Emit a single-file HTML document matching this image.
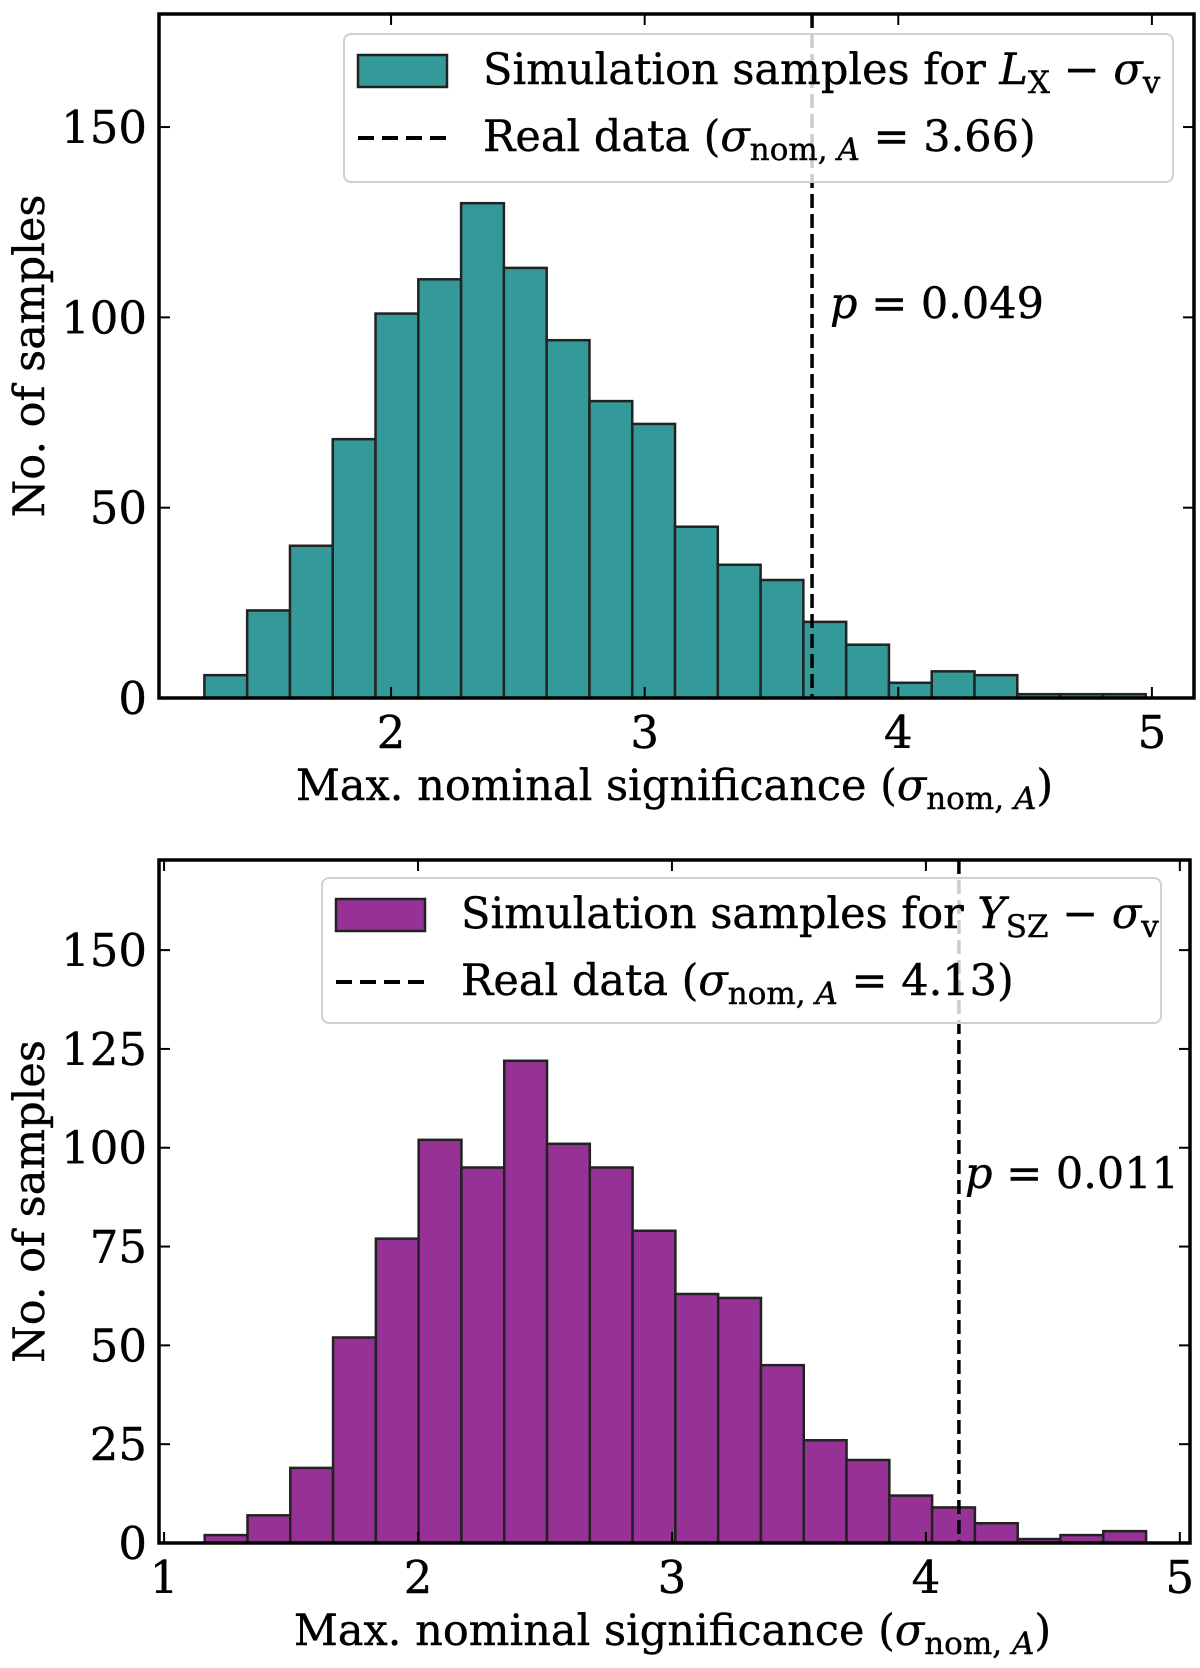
<!DOCTYPE html>
<html><head><meta charset="utf-8"><style>
body{margin:0;background:#fff}
svg text{font-family:"DejaVu Serif","Liberation Serif",serif;fill:#000;stroke:#000;stroke-width:0.4}
</style></head><body>
<svg id="fig" width="1200" height="1663" viewBox="0 0 1200 1663" xmlns="http://www.w3.org/2000/svg"></svg>
<script>
const topCounts=[6,23,40,68,101,110,130,113,94,78,72,45,35,31,20,14,4,7,6,1,1,1];
const topBinStart=1.264, topBinWidth=0.1687;
const topReal=3.66;
const topXTicks=[2,3,4,5];
const topYTicks=[0,50,100,150];
const botCounts=[2,7,19,52,77,102,95,122,101,95,79,63,62,45,26,21,12,9,5,1,2,3];
const botBinStart=1.16, botBinWidth=0.1685;
const botReal=4.13;
const botXTicks=[1,2,3,4,5];
const botYTicks=[0,25,50,75,100,125,150];

const NS="http://www.w3.org/2000/svg";
const svg=document.getElementById('fig');
function mk(tag,attrs,parent){const e=document.createElementNS(NS,tag);for(const k in attrs)e.setAttribute(k,attrs[k]);(parent||svg).appendChild(e);return e;}
const SUB='<tspan font-size="31" dy="9">';
function panel(cfg){
  const g=mk('g',{});
  
  
  const X=v=>cfg.L+(v-cfg.xmin)/(cfg.xmax-cfg.xmin)*(cfg.R-cfg.L);
  const Y=v=>cfg.B-(v)/(cfg.ymax)*(cfg.B-cfg.T);
  cfg.counts.forEach((c,i)=>{
    const x0=X(cfg.binStart+i*cfg.binWidth),x1=X(cfg.binStart+(i+1)*cfg.binWidth);
    const r=mk('rect',{x:x0,y:Y(c),width:x1-x0,height:Y(0)-Y(c),fill:cfg.color,stroke:'#222',"stroke-width":2.5},g);
    
    
  });
  const vl=mk('line',{x1:X(cfg.real),x2:X(cfg.real),y1:cfg.T,y2:cfg.B,stroke:'#000',"stroke-width":3.5,"stroke-dasharray":"14,6"},g);
  
  
  const lg=mk('g',{},g);
  
  
  mk('rect',{x:cfg.lx,y:cfg.ly,width:cfg.lw,height:cfg.lh,rx:7,fill:'rgba(255,255,255,0.8)',stroke:'#d0d0d0',"stroke-width":2},lg);
  mk('rect',{x:cfg.lx+14,y:cfg.ly+21,width:89,height:32,fill:cfg.color,stroke:'#222',"stroke-width":2.5},lg);
  mk('line',{x1:cfg.lx+14,x2:cfg.lx+103,y1:cfg.ly+104,y2:cfg.ly+104,stroke:'#000',"stroke-width":4,"stroke-dasharray":"16,8"},lg);
  const t1=mk('text',{x:cfg.lx+139,y:cfg.ly+50,"font-size":43},lg);
  t1.innerHTML=cfg.label1;
  const t2=mk('text',{x:cfg.lx+139,y:cfg.ly+117,"font-size":43},lg);
  t2.innerHTML='Real data (<tspan font-style="italic">σ</tspan>'+SUB+'nom, <tspan font-style="italic">A</tspan></tspan><tspan dy="-9"> = '+cfg.real.toFixed(2)+')</tspan>';
  const pt=mk('text',{x:cfg.px,y:cfg.py,"font-size":43},g);
  pt.innerHTML='<tspan font-style="italic">p</tspan> = '+cfg.p;
  
  
  mk('rect',{x:cfg.L,y:cfg.T,width:cfg.R-cfg.L,height:cfg.B-cfg.T,fill:'none',stroke:'#000',"stroke-width":3.5},g);
  cfg.xticks.forEach(v=>{
    const x=X(v);
    mk('line',{x1:x,x2:x,y1:cfg.B,y2:cfg.B-11,stroke:'#000',"stroke-width":2},g);
    mk('line',{x1:x,x2:x,y1:cfg.T,y2:cfg.T+11,stroke:'#000',"stroke-width":2},g);
    const t=mk('text',{x:x,y:cfg.B+50,"font-size":45,"text-anchor":"middle"},g);t.textContent=v;
    
    
  });
  cfg.yticks.forEach(v=>{
    const y=Y(v);
    mk('line',{x1:cfg.L,x2:cfg.L+11,y1:y,y2:y,stroke:'#000',"stroke-width":2},g);
    mk('line',{x1:cfg.R,x2:cfg.R-11,y1:y,y2:y,stroke:'#000',"stroke-width":2},g);
    const t=mk('text',{x:cfg.L-12,y:y+16,"font-size":45,"text-anchor":"end"},g);t.textContent=v;
    
    
  });
  const xt=mk('text',{x:(cfg.L+cfg.R)/2-2,y:cfg.B+102,"font-size":43,"text-anchor":"middle"},g);
  xt.innerHTML='Max. nominal significance (<tspan font-style="italic">σ</tspan>'+SUB+'nom, <tspan font-style="italic">A</tspan></tspan><tspan dy="-9">)</tspan>';
  
  
  const yt=mk('text',{x:0,y:0,"font-size":43,"text-anchor":"middle",transform:'translate(44,'+((cfg.T+cfg.B)/2)+') rotate(-90)'},g);
  yt.textContent='No. of samples';
  
  
}
panel({name:'top-panel',L:159,R:1194,T:14,B:698,xmin:1.085,xmax:5.166,ymax:179.7,counts:topCounts,binStart:topBinStart,binWidth:topBinWidth,real:topReal,color:'#339a99',xticks:topXTicks,yticks:topYTicks,lx:344,ly:34,lw:829,lh:148,label1:'Simulation samples for <tspan font-style="italic">L</tspan>'+SUB+'X</tspan><tspan dy="-9"> − </tspan><tspan font-style="italic">σ</tspan>'+SUB+'v</tspan>',px:830,py:318,p:'0.049'});
panel({name:'bottom-panel',L:159,R:1190,T:860,B:1543,xmin:0.98,xmax:5.04,ymax:172.8,counts:botCounts,binStart:botBinStart,binWidth:botBinWidth,real:botReal,color:'#963296',xticks:botXTicks,yticks:botYTicks,lx:322,ly:878,lw:839,lh:145,label1:'Simulation samples for <tspan font-style="italic">Y</tspan>'+SUB+'SZ</tspan><tspan dy="-9"> − </tspan><tspan font-style="italic">σ</tspan>'+SUB+'v</tspan>',px:965,py:1188,p:'0.011'});
</script>
</body></html>
